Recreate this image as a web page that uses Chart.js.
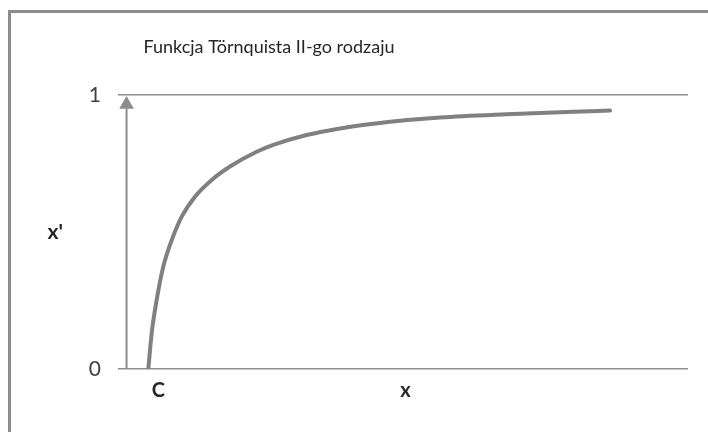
<!DOCTYPE html>
<html>
<head>
<meta charset="utf-8">
<script src="https://cdn.jsdelivr.net/npm/chart.js@4"></script>
<style>
  html, body { margin: 0; padding: 0; background: #fff; }
  #wrap { position: relative; width: 708px; height: 432px; overflow: hidden; }
  #frame { position: absolute; left: 8px; top: 10px; width: 800px; height: 600px;
           border-left: 3px solid #8c8c8c; border-top: 3px solid #8c8c8c; }
  canvas { position: absolute; left: 0; top: 0; }
</style>
</head>
<body>
<div id="wrap">
  <div id="frame"></div>
  <canvas id="chart" width="708" height="432"></canvas>
</div>
<script>
// Chart data (x in arbitrary units 0..100, y in 0..1)
const chartTitle = 'Funkcja Törnquista II-go rodzaju';
const curveX = [5.32, 5.91, 6.79, 7.95, 9.42, 11.18, 13.51, 16.44, 19.65, 24.33,
                27.25, 33.11, 38.95, 47.72, 56.49, 68.19, 79.88, 86.32];
const curveY = [0, 0.131, 0.253, 0.374, 0.470, 0.556, 0.629, 0.690, 0.739, 0.793,
                0.818, 0.854, 0.878, 0.902, 0.918, 0.930, 0.939, 0.943];
const arrowX = [1.5, 1.5];
const arrowY = [0, 0.95];
const arrowHead = { x: 1.5, y: 0.965 };
const yTicks = [0, 1];
const xTickValues = [5.32, 48.7];
const xTickLabels = ['C', 'x'];
const yTitleValue = 0.5;
const yTitleLabel = "x'";

const FONT = 'Lato, "Open Sans", sans-serif';

// Title sits left of centre in the original, so draw it ourselves
const titlePlugin = {
    id: 'titleAt',
    afterDraw(chart) {
        const ctx = chart.ctx;
        ctx.save();
        ctx.font = '18px ' + FONT;
        ctx.fillStyle = '#262626';
        ctx.textAlign = 'center';
        ctx.textBaseline = 'middle';
        ctx.fillText(chartTitle, 269, 47);
        ctx.restore();
    }
};

const ctx = document.getElementById('chart').getContext('2d');

new Chart(ctx, {
    type: 'line',
    data: {
        datasets: [
            {
                data: curveX.map((x, i) => ({ x: x, y: curveY[i] })),
                borderColor: '#808080',
                borderWidth: 4,
                pointRadius: 0,
                cubicInterpolationMode: 'monotone',
                borderCapStyle: 'round'
            },
            {
                data: arrowX.map((x, i) => ({ x: x, y: arrowY[i] })),
                borderColor: '#8c8c8c',
                borderWidth: 2,
                pointRadius: 0
            },
            {
                data: [arrowHead],
                showLine: false,
                pointStyle: 'triangle',
                pointRadius: 8.5,
                pointBackgroundColor: '#8c8c8c',
                pointBorderColor: '#8c8c8c',
                pointBorderWidth: 0
            }
        ]
    },
    options: {
        responsive: false,
        animation: false,
        events: [],
        layout: { padding: { left: 10, right: 20, top: 95, bottom: 23 } },
        plugins: {
            legend: { display: false },
            tooltip: { enabled: false }
        },
        scales: {
            x: {
                type: 'linear',
                min: 0,
                max: 100,
                afterBuildTicks: scale => {
                    scale.ticks = xTickValues.map(v => ({ value: v }));
                },
                afterFit: scale => { scale.height = 40; },
                ticks: {
                    autoSkip: false,
                    maxRotation: 0,
                    padding: 10,
                    labelOffset: 10,
                    color: '#262626',
                    font: { family: FONT, size: 20, weight: 'bold' },
                    callback: (value, index) => xTickLabels[index]
                },
                grid: { display: false, drawTicks: false },
                border: { display: false }
            },
            y: {
                min: 0,
                max: 1,
                weight: 0,
                afterBuildTicks: scale => {
                    scale.ticks = yTicks.map(v => ({ value: v }));
                },
                afterFit: scale => { scale.width = 40; },
                ticks: {
                    padding: 17,
                    color: '#404040',
                    font: { family: FONT, size: 21 }
                },
                grid: { color: '#8f8f8f', lineWidth: 1.5, drawTicks: false },
                border: { display: false }
            },
            y2: {
                position: 'left',
                min: 0,
                max: 1,
                weight: 1,
                afterBuildTicks: scale => {
                    scale.ticks = [{ value: yTitleValue }];
                },
                afterFit: scale => { scale.width = 68; },
                ticks: {
                    padding: 15,
                    color: '#262626',
                    font: { family: FONT, size: 21, weight: 'bold' },
                    callback: () => yTitleLabel
                },
                grid: { display: false, drawTicks: false },
                border: { display: false }
            }
        }
    },
    plugins: [titlePlugin]
});
</script>
</body>
</html>
